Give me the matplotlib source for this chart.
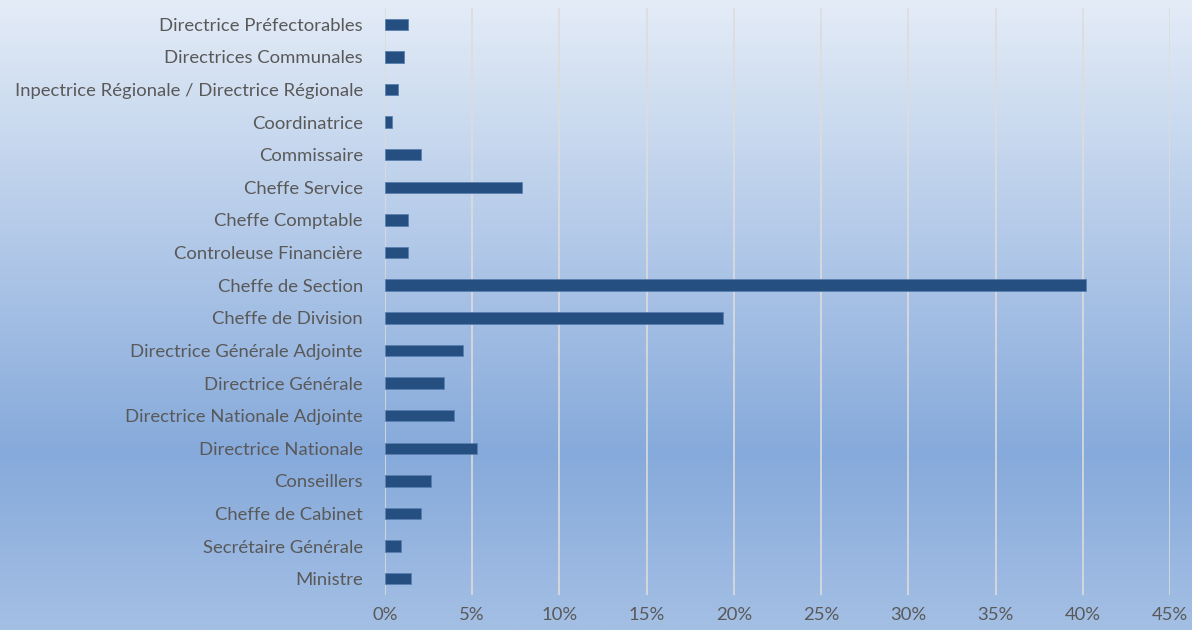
import numpy as np
import matplotlib
matplotlib.use('Agg')
import matplotlib.pyplot as plt
from matplotlib.colors import LinearSegmentedColormap
from matplotlib.ticker import PercentFormatter

# categories from bottom to top
postes = ['Ministre', 'Secrétaire Générale', 'Cheffe de Cabinet', 'Conseillers',
          'Directrice Nationale', 'Directrice Nationale Adjointe', 'Directrice Générale',
          'Directrice Générale Adjointe', 'Cheffe de Division', 'Cheffe de Section',
          'Controleuse Financière', 'Cheffe Comptable', 'Cheffe Service', 'Commissaire',
          'Coordinatrice', 'Inpectrice Régionale / Directrice Régionale',
          'Directrices Communales', 'Directrice Préfectorables']
pourcent = [1.50, 0.94, 2.06, 2.62, 5.25, 3.93, 3.38, 4.48, 19.37, 40.2,
            1.30, 1.30, 7.88, 2.06, 0.38, 0.74, 1.10, 1.30]
xticks = [0, 5, 10, 15, 20, 25, 30, 35, 40, 45]

plt.rcParams['font.family'] = ['Lato', 'DejaVu Sans']

fig = plt.figure(figsize=(11.92, 6.3), dpi=100)

# gradient background over the whole figure
bg = fig.add_axes([0, 0, 1, 1], zorder=0)
cmap = LinearSegmentedColormap.from_list('fond', [
    (0.0, (228/255, 236/255, 247/255)),
    (0.72, (134/255, 170/255, 219/255)),
    (1.0, (164/255, 191/255, 228/255))])
bg.imshow(np.linspace(0, 1, 256).reshape(-1, 1), aspect='auto', cmap=cmap,
          extent=[0, 1, 0, 1])
bg.set_axis_off()

ax = fig.add_axes([385/1192, 35/630, 785/1192, 587/630], zorder=1)
ax.patch.set_alpha(0)
y = np.arange(len(postes))
ax.barh(y, pourcent, height=0.35, color='#254f80', edgecolor='#5a80b0', linewidth=0.6, zorder=3)

ax.set_xlim(0, 45)
ax.set_ylim(-0.5, len(postes) - 0.5)
ax.set_xticks(xticks)
ax.xaxis.set_major_formatter(PercentFormatter(decimals=0))
ax.set_yticks(y)
ax.set_yticklabels(postes)
ax.grid(axis='x', color='#dcdcdc', linewidth=1.2, zorder=1)
ax.set_axisbelow(True)
for s in ax.spines.values():
    s.set_visible(False)
ax.tick_params(axis='both', length=0, colors='#595959', labelsize=13.3)
ax.tick_params(axis='y', pad=16)
ax.tick_params(axis='x', pad=9)

fig.savefig('out.png', dpi=100)
